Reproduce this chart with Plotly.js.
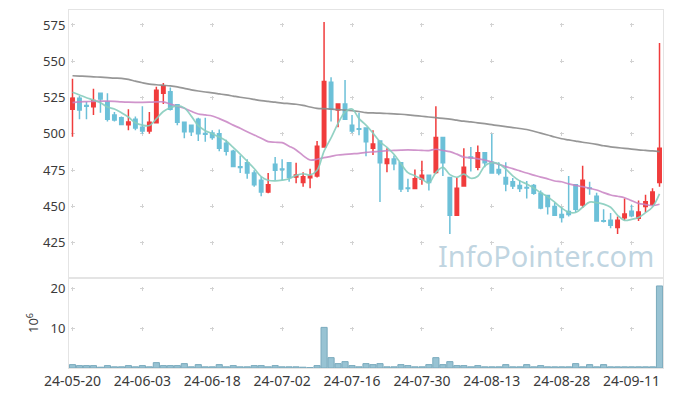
<!DOCTYPE html>
<html><head><meta charset="utf-8">
<script src="https://cdn.plot.ly/plotly-3.0.1.min.js"></script>
<style>html,body{margin:0;padding:0;background:#fff}#chart{width:673px;height:396px}</style>
</head><body><div id="chart"></div>
<script>
const dates = ["24-05-20","24-05-21","24-05-22","24-05-23","24-05-24","24-05-27","24-05-28","24-05-29","24-05-30","24-05-31",
"24-06-03","24-06-04","24-06-05","24-06-07","24-06-10","24-06-11","24-06-12","24-06-13","24-06-14","24-06-17",
"24-06-18","24-06-19","24-06-20","24-06-21","24-06-24","24-06-25","24-06-26","24-06-27","24-06-28","24-07-01",
"24-07-02","24-07-03","24-07-04","24-07-05","24-07-08","24-07-09","24-07-10","24-07-11","24-07-12","24-07-15",
"24-07-16","24-07-17","24-07-18","24-07-19","24-07-22","24-07-23","24-07-24","24-07-25","24-07-26","24-07-29",
"24-07-30","24-07-31","24-08-01","24-08-02","24-08-05","24-08-06","24-08-07","24-08-08","24-08-09","24-08-12",
"24-08-13","24-08-14","24-08-16","24-08-19","24-08-20","24-08-21","24-08-22","24-08-23","24-08-26","24-08-27",
"24-08-28","24-08-29","24-08-30","24-09-02","24-09-03","24-09-04","24-09-05","24-09-06","24-09-09","24-09-10",
"24-09-11","24-09-12","24-09-13","24-09-19","24-09-20"];

const openP = [517,524.5,519.5,518.7,528,522,513,511,506.3,510,
504.5,502,507.7,528,529,520,508,506,510,500.2,
500.5,500,493.5,488,477.3,480,473,468,460,479,
475.8,480,470.3,466.5,469.8,471,491,535.5,516.5,520.5,
506,503.5,504,490,495,479.5,482.7,480,462.7,462.3,
468.7,471.5,473.3,497.5,470,444,464,484,477,487,
480.5,475.5,470,467,464.5,463.1,464.5,459,457.5,450,
444.5,446.5,465,451,462.7,457,440.2,440.5,435.5,442.2,
446.6,441.8,450,451.5,466.5];
const highP = [538,526,522,531,528.5,528,515,512,517,512,
519,515,532.5,535,532,520.5,508.5,506.5,511,511,
502.5,503,496,489,485,482.5,475,470.5,473,484,
482.5,480.5,480,473.5,476,495,577,539,521,537,
513,514.5,504.5,502.5,495.5,490,485,480.5,469,475.5,
481.5,472,519,498,470.5,470,490,491,492,487.5,
500,480.5,480.5,469.5,468,467.5,465.5,461,458,452.5,
449.5,471,465.5,478,467,459.5,448,445.5,443,455.5,
451,454,458,462.5,562.5];
const lowP = [498,510,510,513,514.5,508.5,508.5,506,502.5,502.5,
500,500,507.5,520.5,516,506,497,498.5,495,494.5,
496,488,485,477,473,469,463.5,457,459,468,
468,467,466,463.5,462.5,470,490.5,508.5,504.5,509.5,
500.5,499,484.5,485.5,453,473.5,475,460,460,462,
465,461,472.5,471,431,444,463.5,474,475,477,
472.5,471.5,460.5,462,460,455.5,458,448,444.5,443.5,
439,443,446,449,458,439.5,439,435,431,440.5,
442.5,440,446,450.5,463.5];
const closeP = [524.5,516.5,519,523,524,510,509.5,506.5,508.2,504,
502,508,530,533,517,508,501.5,501.5,500,499.8,
497.5,490,488,477.5,476.8,473,465,460,465,475,
475.4,470,471.6,470.5,471,491.5,536,517,520.5,510,
502,503.1,494.6,493,480,482.7,479.4,462,462.3,469,
471.4,466.5,497.5,480,444,462.5,477,483.6,487,480,
473,473,465.5,464,462.3,462.7,459,449,450,444,
442.3,444.5,448,468,462.3,440,439.8,437,440.5,444.8,
443.6,446.2,453.3,460,490];

const ma5 = [528.6,526.8,524.9,523.3,521.4,518.5,517.1,514.6,511.6,507.6,
506.0,505.7,510.4,515.4,518.0,519.2,517.9,512.2,505.6,502.2,
500.1,497.8,495.1,490.6,486.0,481.1,476.1,470.5,468.0,467.6,
468.1,469.1,471.4,472.5,471.7,474.9,488.1,497.2,507.2,515.0,
517.1,510.5,506.0,500.5,494.5,490.7,485.9,479.4,473.3,471.1,
468.8,466.2,473.3,476.9,471.9,470.1,472.2,469.4,470.8,478.0,
480.1,479.3,475.7,471.1,467.6,465.5,462.7,459.4,456.6,452.9,
448.9,446.0,445.8,449.4,453.0,452.6,451.6,449.4,443.9,440.4,
441.1,442.4,445.7,449.6,458.6];
const ma20 = [521.5,522,522.2,522.4,522.5,522.5,522.3,522,521.8,521.7,
521.7,521.8,522,522,520.5,519,517.6,515.5,513.7,513,
512.3,510.5,508.4,506,503.8,501.5,499.2,497,494.6,494.2,
493.9,491.5,488.9,485,482,482.5,483.6,484.5,485.4,485.8,
486.2,486.6,487.2,487.6,488,488.4,488.6,488.8,488.9,488.8,
488.6,488.5,489.4,488.5,487.7,486,484,483.5,482.8,482,
480.5,479,477.4,476,474.5,473,471.6,470.2,469,467.5,
467,465.5,464.5,463.6,462.5,461.3,459.5,457.9,457,456,
454,452.1,451.3,450.5,451.5];
const ma120 = [540,539.8,539.6,539.3,539,538.7,538.4,538.2,537.5,536.3,
535.2,534.3,533.8,533.4,533,532.3,531.3,530.3,529.5,528.8,
528.2,527.5,526.8,526,525.2,524.5,523.7,522.9,522.3,521.8,
521.2,520.8,520.4,519.6,518.5,517.6,517.3,517,516.7,516.4,
516,515.4,514.6,514.4,514.2,514,513.8,513.5,513.1,512.6,
512.1,511.6,511.1,510.6,510.1,509.4,508.7,508.2,507.6,507,
506.3,505.6,505,504.3,503.7,503,501.8,500.5,499.2,497.8,
496.6,495.8,495,494.2,493.5,492.7,491.8,491,490.5,490,
489.5,489,488.6,488.2,487.7];
const volume = [0.85,0.6,0.6,0.6,0.2,0.6,0.3,0.3,0.6,0.3,
0.6,0.3,1.35,0.6,0.6,0.6,1.1,0.3,0.85,0.3,
0.3,0.85,0.3,0.6,0.3,0.3,0.6,0.6,0.3,0.6,
0.3,0.3,0.3,0.2,0.1,0.6,10.2,2.6,1.1,1.6,
0.6,0.3,1.1,0.85,1.1,0.3,0.3,0.85,0.6,0.3,
0.3,0.85,2.6,0.85,1.6,0.6,0.6,0.3,0.6,0.3,
0.3,0.3,0.85,0.3,0.3,0.85,0.3,0.6,0.3,0.3,
0.3,0.3,1.1,0.3,0.85,0.3,0.85,0.3,0.3,0.3,
0.3,0.3,0.3,0.3,20.6];
const priceTicks = [425,450,475,500,525,550,575];
const volTicks = [10,20];
const watermark = "InfoPointer.com";

const UP = '#f03c3c', DOWN = '#6cc0d8';
const traces = [
  {type:'candlestick', x:dates, open:openP, high:highP, low:lowP, close:closeP,
   xaxis:'x', yaxis:'y', hoverinfo:'skip',
   increasing:{line:{color:UP,width:1.5},fillcolor:UP},
   decreasing:{line:{color:DOWN,width:1.5},fillcolor:DOWN}},
  {type:'scatter', mode:'lines', x:dates, y:ma120, xaxis:'x', yaxis:'y',
   line:{color:'rgba(140,140,140,0.9)',width:1.7,shape:'spline'}},
  {type:'scatter', mode:'lines', x:dates, y:ma20, xaxis:'x', yaxis:'y',
   line:{color:'rgba(200,130,195,0.85)',width:1.7,shape:'spline'}},
  {type:'scatter', mode:'lines', x:dates, y:ma5, xaxis:'x', yaxis:'y',
   line:{color:'rgba(135,205,190,0.9)',width:1.7,shape:'spline'}},
  {type:'bar', x:dates, y:volume, xaxis:'x2', yaxis:'y2',
   marker:{color:'#98c3d3',line:{color:'#7aaabd',width:1}}}
];

const tickFont = {family:'Noto Sans, sans-serif', size:13, color:'#3a3a3a'};
const xTickFont = {family:'Noto Sans, sans-serif', size:14, color:'#3a3a3a'};
const gridC = '#d2d2d2';
const lineC = '#e4e4e4';
const layout = {
  width:673, height:396, margin:{l:69,r:10,t:10,b:28},
  paper_bgcolor:'#fff', plot_bgcolor:'#fff', showlegend:false, bargap:0.12,
  xaxis:{domain:[0,1], anchor:'y', type:'category', range:[-0.5,84.5],
    tickmode:'linear', tick0:0, dtick:10, showticklabels:false, ticks:'',
    showgrid:true, gridcolor:gridC, gridwidth:1, griddash:'0px,13px,4px,19.28px',
    showline:true, mirror:true, linecolor:lineC, rangeslider:{visible:false}, zeroline:false},
  yaxis:{domain:[0.2514,1], anchor:'x', range:[400.7,585.3], tickvals:priceTicks,
    tickfont:tickFont, ticks:'', showgrid:true, gridcolor:gridC, griddash:'0px,1.5px,4px,64.38px',
    showline:true, mirror:true, linecolor:lineC, zeroline:false},
  xaxis2:{domain:[0,1], anchor:'y2', type:'category', matches:'x', range:[-0.5,84.5],
    tickmode:'linear', tick0:0, dtick:10, tickfont:xTickFont, ticks:'',
    showgrid:true, gridcolor:gridC, griddash:'0px,9px,4px,27px',
    showline:true, mirror:true, linecolor:lineC, zeroline:false},
  yaxis2:{domain:[0,0.2514], anchor:'x2', range:[0,22.6], tickvals:volTicks,
    tickfont:tickFont, ticks:'', showgrid:true, gridcolor:gridC, griddash:'0px,1.5px,4px,64.38px',
    showline:true, mirror:true, linecolor:lineC, zeroline:false,
    title:{text:'10<sup>6</sup>', font:{family:'Noto Sans, sans-serif', size:13, color:'#3a3a3a'}, standoff:8}},
  annotations:[{text:watermark, xref:'paper', yref:'paper', x:0.803, y:0.3156,
    xanchor:'center', yanchor:'middle', showarrow:false,
    font:{family:'Noto Sans, sans-serif', size:29, color:'rgba(150,185,205,0.6)'}}]
};
Plotly.newPlot('chart', traces, layout, {displayModeBar:false, staticPlot:true});
</script>
</body></html>
